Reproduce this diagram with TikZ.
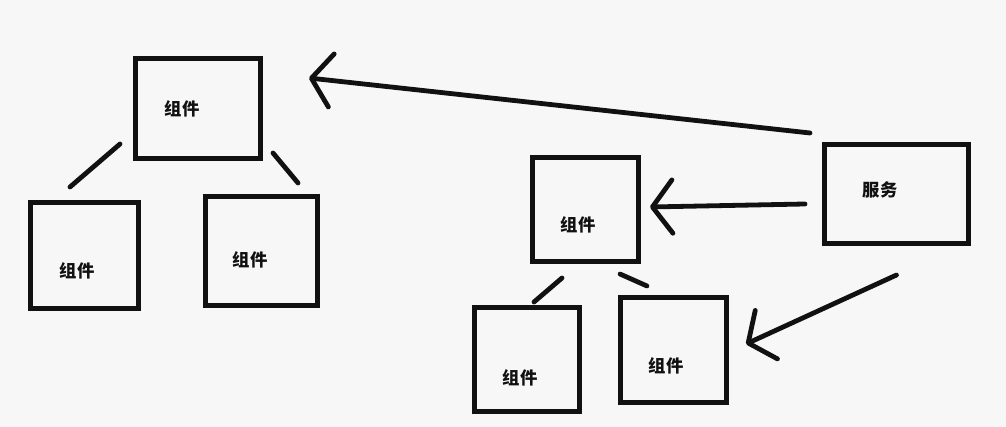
\documentclass[tikz,border=0pt]{standalone}
\usepackage{fontspec}
\newfontfamily\cjk{Noto Sans CJK SC}
\usepackage{xcolor}
\definecolor{paper}{HTML}{F7F7F7}
\definecolor{ink}{HTML}{111111}
\usetikzlibrary{arrows.meta,positioning,calc}
\tikzset{
  >={Straight Barb[length=15pt,width=40pt,round]},
  box/.style 2 args={draw=ink,line width=3.6pt,minimum width=#1*0.75pt-3.6pt,minimum height=#2*0.75pt-3.6pt,inner sep=0pt},
  txt/.style={font=\cjk\bfseries\fontsize{13pt}{13pt}\selectfont,text=ink,inner sep=0pt},
  link/.style={draw=ink,line width=3.6pt,line cap=round},
  arr/.style={->,draw=ink,line width=3.6pt,line cap=round},
}
\begin{document}
\begin{tikzpicture}[x=0.75pt,y=-0.75pt]
\useasboundingbox (0,0) rectangle (1006,427);
\fill[paper] (0,0) rectangle (1006,427);
% boxes
\node[box={130}{105}] (cA) at (198,108.5) {};
\node[box={113}{111}] (cB) at (84.5,255.5) {};
\node[box={117}{114}] (cC) at (261.5,251) {};
\node[box={111}{109}] (cD) at (585.5,209.5) {};
\node[box={149}{104}] (srv) at (896.5,194) {};
\node[box={110}{109}] (cF) at (527,359.5) {};
\node[box={111}{110}] (cG) at (673.5,350) {};
% labels
\node[txt] (tA) at (182,109) {组件};
\node[txt] (tB) at (77,271) {组件};
\node[txt] (tC) at (250,260) {组件};
\node[txt] (tD) at (578,225) {组件};
\node[txt] (tS) at (880,190) {服务};
\node[txt] (tF) at (520,378) {组件};
\node[txt] (tG) at (666,366) {组件};
% tree links
\draw[link] ($(cA.south west)+(-13,-17)$) -- ($(cB.north)+(-14.5,-13)$);
\draw[link] ($(cA.south east)+(10,-8)$) -- ($(cC.north east)+(-22,-11)$);
\draw[link] ($(cD.south)+(-23.5,14)$) -- ($(cF.north)+(7,-3)$);
\draw[link] ($(cD.south east)+(-21,10)$) -- ($(cG.north)+(-26.5,-9)$);
% service arrows
\draw[arr] ($(srv.north west)+(-12,-9)$) -- ($(cA.north east)+(46,22)$);
\draw[arr] ($(srv.west)+(-17,10)$) -- ($(cD.east)+(9,-2.5)$);
\draw[arr] ($(srv.south)+(0,29)$) -- ($(cG.east)+(17,-6)$);
\end{tikzpicture}
\end{document}
